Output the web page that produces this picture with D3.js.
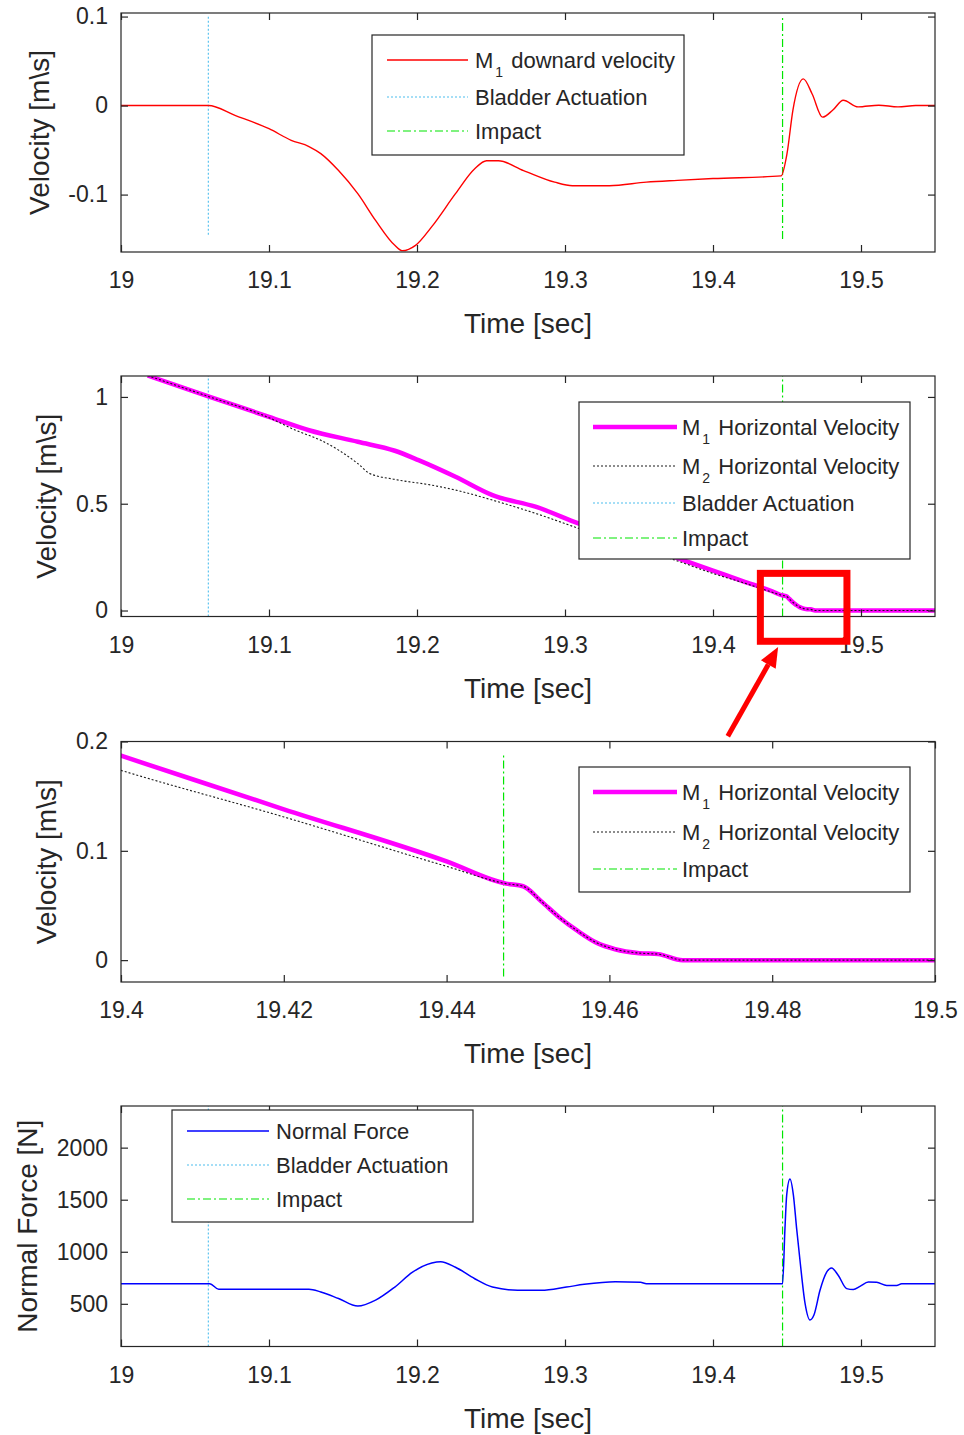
<!DOCTYPE html>
<html>
<head>
<meta charset="utf-8">
<script src="https://cdn.jsdelivr.net/npm/d3@7"></script>
<style>
  html, body { margin: 0; padding: 0; background: #fff; }
  svg { display: block; }
  text { font-family: "Liberation Sans", Arial, Helvetica, sans-serif; fill: #262626; }
</style>
</head>
<body>
<svg id="chart" width="964" height="1435"></svg>
<script>
// ---------------- DATA ----------------
const bladderTime = 19.059;
const impactTime = 19.447;

// Panel 1: M1 downward velocity [m/s]
const tDown = [19.0, 19.059, 19.077, 19.1, 19.115, 19.127, 19.135, 19.147, 19.16, 19.172, 19.185, 19.19, 19.199, 19.21, 19.226, 19.239, 19.247, 19.255, 19.272, 19.293, 19.305, 19.33, 19.355, 19.376, 19.4, 19.446, 19.45, 19.454, 19.461, 19.467, 19.474, 19.481, 19.488, 19.498, 19.512, 19.525, 19.537, 19.55];
const vDown = [0, 0, -0.011, -0.026, -0.039, -0.046, -0.054, -0.073, -0.099, -0.129, -0.157, -0.163, -0.157, -0.136, -0.099, -0.071, -0.062, -0.062, -0.073, -0.086, -0.090, -0.090, -0.086, -0.084, -0.082, -0.079, -0.054, -0.005, 0.030, 0.013, -0.013, -0.005, 0.006, -0.0015, 0.0004, -0.0015, 0, 0];

// Panels 2 & 3: horizontal velocities [m/s]
const tM1 = [19.018, 19.06, 19.1, 19.127, 19.16, 19.185, 19.201, 19.226, 19.251, 19.28, 19.309, 19.34, 19.376, 19.4, 19.42, 19.44, 19.4473, 19.4494, 19.4516, 19.4539, 19.4561, 19.4584, 19.4607, 19.4637, 19.466, 19.469, 19.55];
const vM1 = [1.10, 1.0, 0.907, 0.844, 0.79, 0.748, 0.704, 0.626, 0.540, 0.486, 0.408, 0.333, 0.245, 0.187, 0.138, 0.0903, 0.070, 0.0676, 0.054, 0.0388, 0.0267, 0.016, 0.010, 0.0064, 0.0055, 0, 0];
const tM2 = [19.018, 19.06, 19.1, 19.118, 19.135, 19.147, 19.16, 19.168, 19.185, 19.21, 19.226, 19.251, 19.28, 19.309, 19.34, 19.376, 19.4, 19.42, 19.44, 19.4473, 19.4494, 19.4516, 19.4539, 19.4561, 19.4584, 19.4607, 19.4637, 19.466, 19.469, 19.55];
const vM2 = [1.10, 1.0, 0.903, 0.844, 0.797, 0.751, 0.688, 0.642, 0.614, 0.587, 0.564, 0.517, 0.455, 0.385, 0.31, 0.232, 0.1736, 0.131, 0.0858, 0.070, 0.0676, 0.054, 0.0388, 0.0267, 0.016, 0.010, 0.0064, 0.0055, 0, 0];

// Panel 4: normal force [N]
const tF = [19.0, 19.06, 19.066, 19.127, 19.135, 19.147, 19.16, 19.172, 19.185, 19.197, 19.21, 19.216, 19.226, 19.239, 19.251, 19.268, 19.284, 19.301, 19.313, 19.334, 19.351, 19.355, 19.447, 19.4486, 19.4498, 19.452, 19.4543, 19.4565, 19.4588, 19.4622, 19.4655, 19.4682, 19.4723, 19.4768, 19.4801, 19.4847, 19.4903, 19.4948, 19.4993, 19.505, 19.5106, 19.5174, 19.5241, 19.5275, 19.55];
const vF = [693, 693, 640, 640, 614, 551, 478, 535, 661, 804, 892, 905, 851, 741, 661, 630, 630, 661, 687, 712, 706, 693, 693, 1215, 1547, 1700, 1547, 1224, 914, 504, 345, 393, 630, 804, 845, 772, 646, 637, 668, 709, 706, 677, 677, 693, 693];

// Tick values
const xTicksFull = [19, 19.1, 19.2, 19.3, 19.4, 19.5];
const xTicksZoom = [19.4, 19.42, 19.44, 19.46, 19.48, 19.5];
const yTicksP1 = [-0.1, 0, 0.1];
const yTicksP2 = [0, 0.5, 1];
const yTicksP3 = [0, 0.1, 0.2];
const yTicksP4 = [500, 1000, 1500, 2000];

// Legend labels
const legendP1 = ["M|1| downard velocity", "Bladder Actuation", "Impact"];
const legendP2 = ["M|1| Horizontal Velocity", "M|2| Horizontal Velocity", "Bladder Actuation", "Impact"];
const legendP3 = ["M|1| Horizontal Velocity", "M|2| Horizontal Velocity", "Impact"];
const legendP4 = ["Normal Force", "Bladder Actuation", "Impact"];

// ---------------- STYLES ----------------
const ST = {
  red:     { stroke: "#ff0000", width: 1.4, dash: null },
  magenta: { stroke: "#ff00ff", width: 4.5, dash: null },
  m2:      { stroke: "#1a1a1a", width: 1.1, dash: "2,2" },
  bladder: { stroke: "#4dbeee", width: 1.1, dash: "2,2" },
  impact:  { stroke: "#00e600", width: 1.2, dash: "8,3,2,3" },
  blue:    { stroke: "#0000ff", width: 1.5, dash: null }
};

const svg = d3.select("#chart");
const L = 121, R = 935;
const AX = "#262626";

function zip(t, v) { return t.map((d, i) => [d, v[i]]); }

function drawPanel(cfg, idx) {
  const g = svg.append("g");
  const x = d3.scaleLinear().domain(cfg.xDomain).range([L, R]);
  const y = d3.scaleLinear().domain(cfg.yDomain).range([cfg.bottom, cfg.top]);
  const cid = "clip" + idx;
  g.append("clipPath").attr("id", cid).append("rect")
    .attr("x", L).attr("y", cfg.top).attr("width", R - L).attr("height", cfg.bottom - cfg.top);
  const plot = g.append("g").attr("clip-path", `url(#${cid})`);
  const line = d3.line().x(d => x(d[0])).y(d => y(d[1])).curve(d3.curveMonotoneX);

  function styled(sel, s) {
    sel.attr("fill", "none").attr("stroke", s.stroke).attr("stroke-width", s.width);
    if (s.dash) sel.attr("stroke-dasharray", s.dash);
    return sel;
  }
  // vertical markers
  (cfg.vlines || []).forEach(vl => {
    styled(plot.append("line"), ST[vl.style])
      .attr("x1", x(vl.t)).attr("x2", x(vl.t))
      .attr("y1", y(vl.range ? vl.range[0] : cfg.yDomain[0]))
      .attr("y2", y(vl.range ? vl.range[1] : cfg.yDomain[1]));
  });
  // series
  cfg.series.forEach(s => {
    styled(plot.append("path"), ST[s.style]).attr("d", line(zip(s.t, s.v)))
      .attr("stroke-linejoin", "round");
  });

  // box
  g.append("rect").attr("x", L).attr("y", cfg.top).attr("width", R - L)
    .attr("height", cfg.bottom - cfg.top).attr("fill", "none").attr("stroke", AX).attr("stroke-width", 1.2);

  // axes (inward ticks on all sides)
  const fmt = d => String(d);
  const ax = [
    { a: d3.axisBottom(x).tickValues(cfg.xTicks).tickFormat(fmt).tickPadding(20), tr: `translate(0,${cfg.bottom})` },
    { a: d3.axisTop(x).tickValues(cfg.xTicks).tickFormat(""), tr: `translate(0,${cfg.top})` },
    { a: d3.axisLeft(y).tickValues(cfg.yTicks).tickFormat(fmt).tickPadding(13), tr: `translate(${L},0)` },
    { a: d3.axisRight(y).tickValues(cfg.yTicks).tickFormat(""), tr: `translate(${R},0)` }
  ];
  ax.forEach(o => {
    const ag = g.append("g").attr("transform", o.tr)
      .call(o.a.tickSize(-7).tickSizeOuter(0));
    ag.select(".domain").remove();
    ag.selectAll(".tick line").attr("stroke", AX).attr("stroke-width", 1.2);
    ag.selectAll(".tick text").attr("fill", AX).style("font-size", "23px")
      .style("font-family", '"Liberation Sans", Arial, sans-serif');
  });

  // axis labels
  g.append("text").attr("x", (L + R) / 2).attr("y", cfg.bottom + 81)
    .attr("text-anchor", "middle").style("font-size", "28px").text("Time [sec]");
  g.append("text")
    .attr("transform", `translate(${cfg.ylabelX + 10},${(cfg.top + cfg.bottom) / 2}) rotate(-90)`)
    .attr("text-anchor", "middle").style("font-size", "28px").text(cfg.ylabel);

  // legend
  const lg = cfg.legend;
  g.append("rect").attr("x", lg.x0).attr("y", lg.y0).attr("width", lg.x1 - lg.x0)
    .attr("height", lg.y1 - lg.y0).attr("fill", "#fff").attr("stroke", AX).attr("stroke-width", 1.2);
  lg.labels.forEach((lab, i) => {
    const yy = lg.rows[i];
    styled(g.append("line"), ST[lg.styles[i]])
      .attr("x1", lg.lx0).attr("x2", lg.lx1).attr("y1", yy).attr("y2", yy);
    const t = g.append("text").attr("x", lg.tx).attr("y", yy + 8).style("font-size", "22px");
    const parts = lab.split("|");
    if (parts.length === 3) {
      t.append("tspan").text(parts[0]);
      t.append("tspan").attr("dx", 2).attr("dy", 9).style("font-size", "14px").text(parts[1]);
      t.append("tspan").attr("dx", 2).attr("dy", -9).text(parts[2]);
    } else {
      t.text(lab);
    }
  });
  return { x, y };
}

// Panel 1
drawPanel({
  top: 13, bottom: 252, xDomain: [19, 19.55], yDomain: [-0.1645, 0.104],
  xTicks: xTicksFull, yTicks: yTicksP1, ylabel: "Velocity [m\\s]", ylabelX: 39,
  vlines: [{ t: bladderTime, style: "bladder", range: [-0.145, 0.102] },
           { t: impactTime, style: "impact", range: [-0.15, 0.1] }],
  series: [{ t: tDown, v: vDown, style: "red" }],
  legend: { x0: 372, y0: 35, x1: 684, y1: 155, lx0: 387, lx1: 468, tx: 475,
            rows: [60, 97, 131], labels: legendP1, styles: ["red", "bladder", "impact"] }
}, 1);

// Panel 2
const p2 = drawPanel({
  top: 376, bottom: 616.5, xDomain: [19, 19.55], yDomain: [-0.028, 1.098],
  xTicks: xTicksFull, yTicks: yTicksP2, ylabel: "Velocity [m\\s]", ylabelX: 46,
  vlines: [{ t: bladderTime, style: "bladder" }, { t: impactTime, style: "impact" }],
  series: [{ t: tM1, v: vM1, style: "magenta" }, { t: tM2, v: vM2, style: "m2" }],
  legend: { x0: 579, y0: 402, x1: 910, y1: 559, lx0: 593, lx1: 677, tx: 682,
            rows: [427, 466, 503, 538], labels: legendP2, styles: ["magenta", "m2", "bladder", "impact"] }
}, 2);

// Panel 3 (zoom)
drawPanel({
  top: 741.5, bottom: 982, xDomain: [19.4, 19.5], yDomain: [-0.02, 0.2],
  xTicks: xTicksZoom, yTicks: yTicksP3, ylabel: "Velocity [m\\s]", ylabelX: 46,
  vlines: [{ t: impactTime, style: "impact", range: [-0.015, 0.19] }],
  series: [{ t: tM1, v: vM1, style: "magenta" }, { t: tM2, v: vM2, style: "m2" }],
  legend: { x0: 579, y0: 767, x1: 910, y1: 892, lx0: 593, lx1: 677, tx: 682,
            rows: [792, 832, 869], labels: legendP3, styles: ["magenta", "m2", "impact"] }
}, 3);

// Panel 4
drawPanel({
  top: 1106, bottom: 1346.5, xDomain: [19, 19.55], yDomain: [90, 2400],
  xTicks: xTicksFull, yTicks: yTicksP4, ylabel: "Normal Force [N]", ylabelX: 27,
  vlines: [{ t: bladderTime, style: "bladder" }, { t: impactTime, style: "impact" }],
  series: [{ t: tF, v: vF, style: "blue" }],
  legend: { x0: 172, y0: 1110, x1: 473, y1: 1222, lx0: 187, lx1: 269, tx: 276,
            rows: [1131, 1165, 1199], labels: legendP4, styles: ["blue", "bladder", "impact"] }
}, 4);

// Zoom annotation (in panel-2 data units)
const zoomBox = { t0: 19.432, t1: 19.4905, v0: -0.144, v1: 0.174 };
const arrowTail = [19.410, -0.589], arrowTip = [19.444, -0.171];
svg.append("rect")
  .attr("x", p2.x(zoomBox.t0)).attr("y", p2.y(zoomBox.v1))
  .attr("width", p2.x(zoomBox.t1) - p2.x(zoomBox.t0))
  .attr("height", p2.y(zoomBox.v0) - p2.y(zoomBox.v1))
  .attr("fill", "none").attr("stroke", "#ff0000").attr("stroke-width", 7);
(function () {
  const x1 = p2.x(arrowTail[0]), y1 = p2.y(arrowTail[1]);
  const x2 = p2.x(arrowTip[0]), y2 = p2.y(arrowTip[1]);
  const ang = Math.atan2(y2 - y1, x2 - x1);
  const hl = 20, hw = 8.5;
  const bx = x2 - hl * Math.cos(ang), by = y2 - hl * Math.sin(ang);
  svg.append("line").attr("x1", x1).attr("y1", y1).attr("x2", bx).attr("y2", by)
    .attr("stroke", "#ff0000").attr("stroke-width", 5);
  const px = -Math.sin(ang), py = Math.cos(ang);
  svg.append("path")
    .attr("d", `M${x2},${y2}L${bx + hw * px},${by + hw * py}L${bx - hw * px},${by - hw * py}Z`)
    .attr("fill", "#ff0000");
})();
</script>
</body>
</html>
